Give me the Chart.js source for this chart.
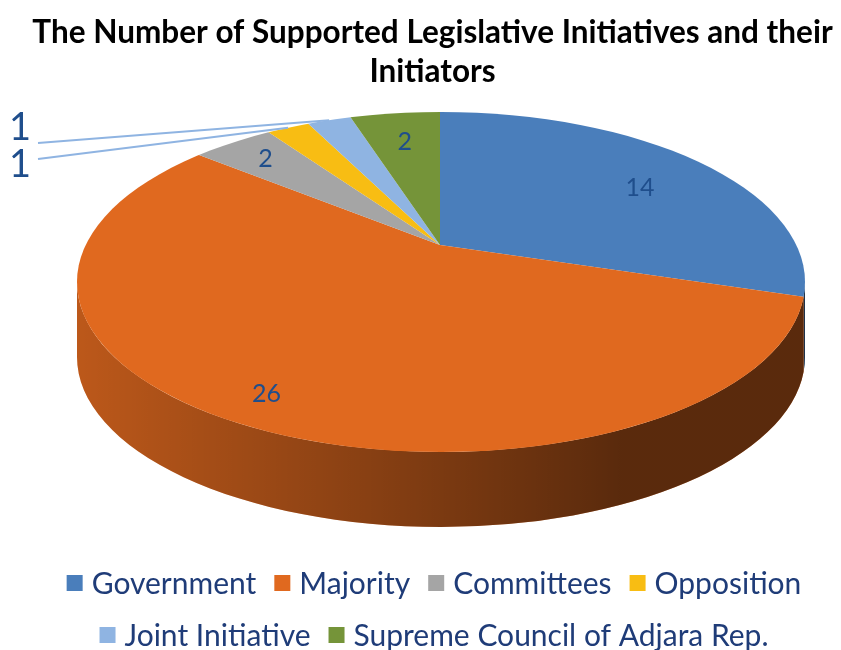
<!DOCTYPE html>
<html>
<head>
<meta charset="utf-8">
<script src="https://cdn.jsdelivr.net/npm/chart.js@4.4.1/dist/chart.umd.min.js"></script>
<style>
  html, body { margin: 0; padding: 0; background: #fff; }
  canvas { display: block; }
</style>
</head>
<body>
<canvas id="chart" width="841" height="650"></canvas>
<script>
var categories = ['Government', 'Majority', 'Committees', 'Opposition', 'Joint Initiative', 'Supreme Council of Adjara Rep.'];
var counts = [14, 26, 2, 1, 1, 2];
var titleLines = ['The Number of Supported Legislative Initiatives and their', 'Initiators'];

var sliceColors = ['#4a7ebb', '#e0691f', '#a5a5a5', '#f8bd13', '#8fb4e2', '#759439'];
var labelColor = '#1f4e8c';
var legendColor = '#1f3c78';

// geometry of the tilted pie (screen pixels)
var RIM = { cx: 441, cy: 282, rx: 364, ry: 170 };
var HUB = { x: 440, y: 245 };
var TILT = 0.4;
var DEPTH = 75;
var SPREAD = 560;

// how far out (share of hub-to-rim distance) each value label sits
var LABEL_POS = { 0: 0.74, 1: 0.85, 2: 0.84, 5: 0.78 };

// slices whose value sits outside the pie with a leader line
var CALLOUTS = {
    3: { tx: 20, ty: 165, lx: 38, ly: 159 },
    4: { tx: 20, ty: 128, lx: 38, ly: 143 }
};

function rimHit(a) {
    var dx = Math.cos(a), dy = Math.sin(a) * TILT;
    var px = (HUB.x - RIM.cx) / RIM.rx, py = (HUB.y - RIM.cy) / RIM.ry;
    var ux = dx / RIM.rx, uy = dy / RIM.ry;
    var A = ux * ux + uy * uy, B = 2 * (px * ux + py * uy), C = px * px + py * py - 1;
    var s = (-B + Math.sqrt(B * B - 4 * A * C)) / (2 * A);
    return { x: HUB.x + dx * s, y: HUB.y + dy * s };
}

function rimParam(p) {
    return Math.atan2((p.y - RIM.cy) / RIM.ry, (p.x - RIM.cx) / RIM.rx);
}

function sliceParams(arc) {
    var t1 = rimParam(rimHit(arc.startAngle));
    var t2 = rimParam(rimHit(arc.endAngle));
    while (t2 <= t1) t2 += Math.PI * 2;
    return [t1, t2];
}

function drawSides(chart) {
    var ctx = chart.ctx;
    var arcs = chart.getDatasetMeta(0).data;
    var shade = ctx.createLinearGradient(RIM.cx - RIM.rx, 0, RIM.cx + RIM.rx, 0);
    shade.addColorStop(0, 'rgba(0,0,0,0.16)');
    shade.addColorStop(0.5, 'rgba(0,0,0,0.45)');
    shade.addColorStop(0.75, 'rgba(0,0,0,0.6)');
    shade.addColorStop(1, 'rgba(0,0,0,0.6)');

    ctx.save();
    arcs.forEach(function (arc, i) {
        var t = sliceParams(arc);
        [0, Math.PI * 2].forEach(function (off) {
            var a = Math.max(t[0], off), b = Math.min(t[1], off + Math.PI);
            if (b <= a) return;
            ctx.beginPath();
            ctx.ellipse(RIM.cx, RIM.cy, RIM.rx, RIM.ry, 0, a, b);
            ctx.ellipse(RIM.cx, RIM.cy + DEPTH, RIM.rx, RIM.ry, 0, b, a, true);
            ctx.closePath();
            ctx.fillStyle = sliceColors[i];
            ctx.fill();
            ctx.fillStyle = shade;
            ctx.fill();
        });
    });
    ctx.restore();
}

function drawValues(chart) {
    var ctx = chart.ctx;
    var arcs = chart.getDatasetMeta(0).data;
    ctx.save();
    ctx.textAlign = 'center';
    ctx.textBaseline = 'middle';
    ctx.fillStyle = labelColor;
    arcs.forEach(function (arc, i) {
        var hit = rimHit((arc.startAngle + arc.endAngle) / 2);
        var c = CALLOUTS[i];
        if (c) {
            ctx.strokeStyle = '#8fb4e2';
            ctx.lineWidth = 2;
            ctx.beginPath();
            ctx.moveTo(c.lx, c.ly);
            ctx.lineTo(hit.x, hit.y);
            ctx.stroke();
            ctx.font = '38px Lato';
            ctx.fillText(String(counts[i]), c.tx, c.ty);
            return;
        }
        // mix the ray hit with the rim point halfway round the slice's rim
        var t = sliceParams(arc), tm = (t[0] + t[1]) / 2;
        var ex = (hit.x + RIM.cx + RIM.rx * Math.cos(tm)) / 2;
        var ey = (hit.y + RIM.cy + RIM.ry * Math.sin(tm)) / 2;
        var f = LABEL_POS[i] || 0.78;
        ctx.font = '25px Lato';
        ctx.fillText(String(counts[i]), HUB.x + (ex - HUB.x) * f, HUB.y + (ey - HUB.y) * f);
    });
    ctx.restore();
}

function drawLegend(chart) {
    var ctx = chart.ctx;
    var box = 16, boxGap = 9, itemGap = 18, maxWidth = 790, center = 434, top = 583, rowGap = 52;
    ctx.save();
    ctx.font = '30px Lato';
    var rows = [], cur = [], w = 0;
    categories.forEach(function (name, i) {
        var iw = box + boxGap + ctx.measureText(name).width;
        var add = (cur.length ? itemGap : 0) + iw;
        if (cur.length && w + add > maxWidth) {
            rows.push({ items: cur, w: w });
            cur = [];
            w = 0;
            add = iw;
        }
        cur.push({ i: i, iw: iw });
        w += add;
    });
    rows.push({ items: cur, w: w });

    ctx.textBaseline = 'middle';
    ctx.textAlign = 'left';
    rows.forEach(function (row, r) {
        var x = center - row.w / 2;
        var y = top + r * rowGap;
        row.items.forEach(function (it) {
            ctx.fillStyle = sliceColors[it.i];
            ctx.fillRect(x, y - box / 2, box, box);
            ctx.fillStyle = legendColor;
            ctx.fillText(categories[it.i], x + box + boxGap, y + 1);
            x += it.iw + itemGap;
        });
    });
    ctx.restore();
}

var pie3d = {
    id: 'pie3d',
    beforeDatasetsDraw: function (chart) {
        var ctx = chart.ctx;
        var arc0 = chart.getDatasetMeta(0).data[0];
        drawSides(chart);
        var k = SPREAD / arc0.outerRadius;
        ctx.save();
        ctx.beginPath();
        ctx.ellipse(RIM.cx, RIM.cy, RIM.rx, RIM.ry, 0, 0, Math.PI * 2);
        ctx.clip();
        ctx.translate(HUB.x, HUB.y);
        ctx.scale(k, k * TILT);
        ctx.translate(-arc0.x, -arc0.y);
    },
    afterDatasetsDraw: function (chart) {
        chart.ctx.restore();
        drawValues(chart);
    },
    afterDraw: function (chart) {
        drawLegend(chart);
    }
};

new Chart(document.getElementById('chart'), {
    type: 'pie',
    data: {
        labels: categories,
        datasets: [{
            data: counts,
            backgroundColor: sliceColors,
            borderWidth: 0,
            clip: false
        }]
    },
    options: {
        responsive: false,
        devicePixelRatio: 1,
        animation: false,
        events: [],
        layout: { padding: { top: 0, left: 24, bottom: 110 } },
        plugins: {
            title: {
                display: true,
                text: titleLines,
                color: '#000',
                font: { family: 'Lato', size: 31.5, weight: 'bold', lineHeight: 1.24 },
                padding: { top: 13, bottom: 10 }
            },
            legend: { display: false },
            tooltip: { enabled: false }
        }
    },
    plugins: [pie3d]
});
</script>
</body>
</html>
